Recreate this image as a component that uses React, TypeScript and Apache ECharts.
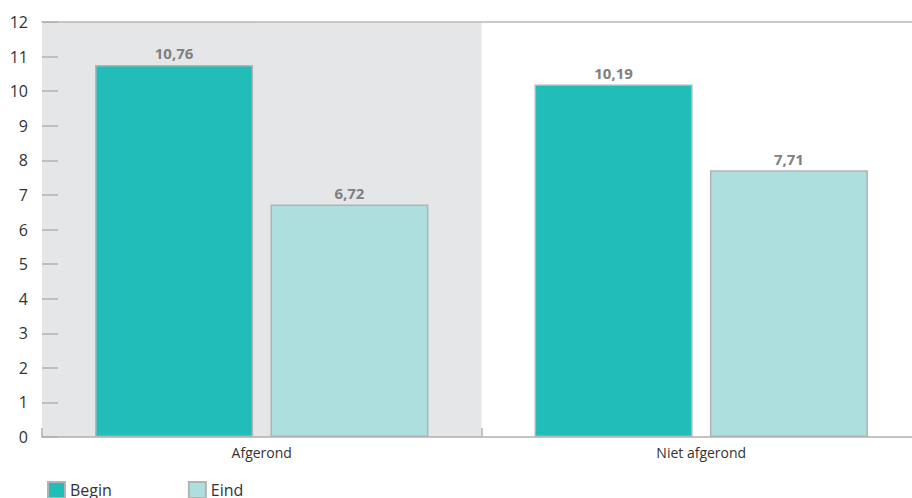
import React, { useEffect, useRef } from "react";
import * as echarts from "echarts";

const categories = ["Afgerond", "Niet afgerond"];
const beginValues = [10.76, 10.19];
const eindValues = [6.72, 7.71];
const seriesNames = ["Begin", "Eind"];

const FONT = "'Open Sans', 'DejaVu Sans', sans-serif";

export default function App() {
  const ref = useRef<HTMLDivElement>(null);
  useEffect(() => {
    if (!ref.current) return;
    const chart = echarts.init(ref.current, undefined, { renderer: "svg" });
    const label = {
      show: true,
      position: "top",
      distance: 4,
      color: "#808080",
      fontWeight: "bold",
      fontSize: 15,
      fontFamily: FONT,
      formatter: (p: any) => p.value.toFixed(2).replace(".", ","),
    };
    chart.setOption({
      animation: false,
      grid: { left: 42, right: 0, top: 22, bottom: 61 },
      legend: {
        left: 42,
        top: 476,
        itemWidth: 17,
        itemHeight: 16,
        itemGap: 76,
        icon: "rect",
        textStyle: { fontSize: 16, lineHeight: 16, color: "#333", fontFamily: FONT },
        data: seriesNames,
      },
      xAxis: [
        {
          type: "category",
          data: categories,
          axisLine: { show: true, lineStyle: { color: "#b0b0b0", width: 1.5 } },
          axisTick: { show: true, inside: true, length: 9, lineStyle: { color: "#b0b0b0", width: 1.5 } },
          axisLabel: { color: "#333", fontSize: 14, fontFamily: FONT, margin: 8 },
          splitArea: { show: true, areaStyle: { color: ["#e5e6e8", "rgba(255,255,255,0)"] } },
          splitLine: { show: false },
        },
        {
          type: "category",
          position: "top",
          data: categories,
          axisLine: { show: true, lineStyle: { color: "#b8b8b8", width: 1.5 } },
          axisTick: { show: false },
          axisLabel: { show: false },
        },
      ],
      yAxis: {
        type: "value",
        min: 0,
        max: 12,
        interval: 1,
        axisLine: { show: false },
        axisTick: { show: true, inside: true, length: 16, lineStyle: { color: "#b0b0b0", width: 1.5 } },
        axisLabel: { color: "#333", fontSize: 16, fontFamily: FONT, margin: 14 },
        splitLine: { show: false },
      },
      series: [
        {
          name: seriesNames[0],
          type: "bar",
          data: beginValues,
          barWidth: 158,
          barGap: "11%",
          itemStyle: { color: "#21bdb9", borderColor: "#b3b3b3", borderWidth: 1.5 },
          label,
        },
        {
          name: seriesNames[1],
          type: "bar",
          data: eindValues,
          barWidth: 158,
          barGap: "11%",
          itemStyle: { color: "#aedfdf", borderColor: "#b3b3b3", borderWidth: 1.5 },
          label,
        },
      ],
    });
    return () => chart.dispose();
  }, []);
  return (
    <div style={{ position: "absolute", left: 0, top: 0, width: 912, height: 498, overflow: "hidden" }}>
      <div ref={ref} style={{ width: 921, height: 498 }} />
    </div>
  );
}
